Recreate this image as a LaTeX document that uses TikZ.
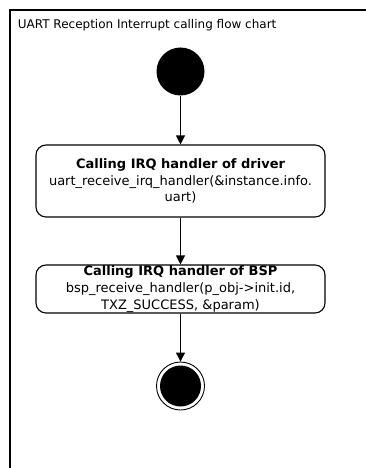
\documentclass[tikz,border=0pt]{standalone}
\usepackage{fontspec}
\setmainfont{DejaVu Sans}
\usetikzlibrary{arrows.meta}

\tikzset{
  stepbox/.style={draw, rounded corners=10, minimum width=289, align=center, line width=1.1, inner sep=0.5},
}

\begin{document}
\begin{tikzpicture}[x=1pt, y=-1pt, font=\fontsize{13}{16.6}\selectfont, -{Triangle[length=9,width=9]}, line width=1.1]
	\useasboundingbox (0,0) rectangle (366,468);
	\clip (0,0) rectangle (366,468);
	\draw[-, line width=1.3] (10,480) -- (10,10) -- (380,10);
	\node[anchor=west, font=\fontsize{12}{14}\selectfont] (title) at (14,25) {UART Reception Interrupt calling flow chart};
	\node[fill=black, circle, minimum size=48, inner sep=0] (start) at (180.5,71.5) {};
	\node[stepbox, minimum height=72] (drv) at (180.5,181) {\textbf{Calling IRQ handler of driver}\\uart\_receive\_irq\_handler(\&instance.info.\\uart)};
	\node[stepbox, minimum height=48] (bsp) at (180.5,289) {\textbf{Calling IRQ handler of BSP}\\bsp\_receive\_handler(p\_obj->init.id,\\TXZ\_SUCCESS, \&param)};
	\node[draw, circle, minimum size=48, inner sep=0, line width=0.9] (stop) at (180.5,386) {};
	\fill (stop.center) circle (20.5);
	\draw (start) -- (drv);
	\draw (drv) -- (bsp);
	\draw (bsp) -- (stop);
\end{tikzpicture}
\end{document}
